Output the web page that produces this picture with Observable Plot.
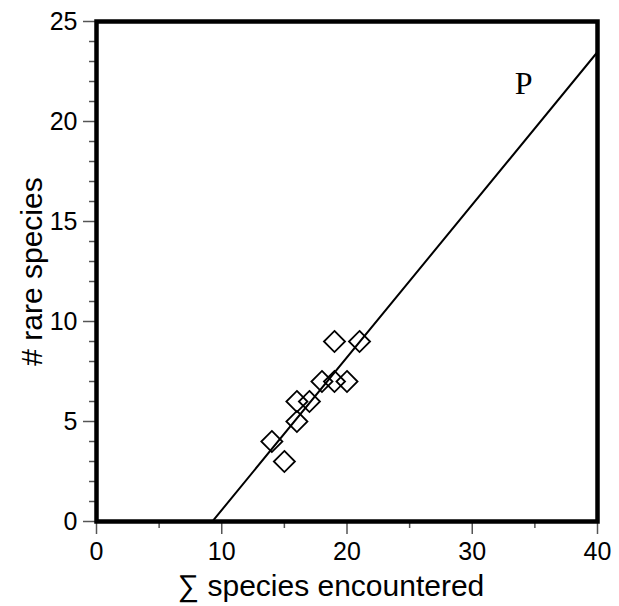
<!DOCTYPE html>
<html><head><meta charset="utf-8">
<script src="https://cdn.jsdelivr.net/npm/d3@7"></script>
<script src="https://cdn.jsdelivr.net/npm/@observablehq/plot@0.6"></script>
<style>
body{margin:0;background:#fff;}
#chart svg{display:block;}
</style>
</head><body><div id="chart"></div>
<script>
// Data
const totalSpecies = [14, 15, 16, 16, 17, 18, 19, 20, 19, 21];
const rareSpecies  = [4, 3, 5, 6, 6, 7, 7, 7, 9, 9];
const xTicks = [0, 10, 20, 30, 40];
const xMinorTicks = [5, 15, 25, 35];
const yTicks = [0, 5, 10, 15, 20, 25];
const yMinorTicks = [1, 2, 3, 4, 6, 7, 8, 9, 11, 12, 13, 14, 16, 17, 18, 19, 21, 22, 23, 24];
const xDomain = [0, 40];
const yDomain = [0, 25];
const xLabel = "∑ species encountered";
const yLabel = "# rare species";
const annotation = [{label: "P", x: 34.1, y: 21.9}];

const points = totalSpecies.map((x, i) => ({x, y: rareSpecies[i]}));

// least-squares fit
const mx = d3.mean(points, d => d.x), my = d3.mean(points, d => d.y);
const slope = d3.sum(points, d => (d.x - mx) * (d.y - my)) / d3.sum(points, d => (d.x - mx) ** 2);
const intercept = my - slope * mx;
const fitLine = xDomain.map(x => ({x, y: intercept + slope * x}));

const font = "'Liberation Sans', Arial, Helvetica, sans-serif";

const chart = Plot.plot({
  width: 619,
  height: 606,
  marginLeft: 96,
  marginRight: 22,
  marginTop: 21,
  marginBottom: 85,
  style: {fontFamily: font, background: "#fff", color: "black"},
  x: {domain: xDomain},
  y: {domain: yDomain},
  marks: [
    Plot.line(fitLine, {x: "x", y: "y", stroke: "black", strokeWidth: 2, clip: true}),
    Plot.dot(points, {x: "x", y: "y", symbol: "diamond2", r: 9.5, stroke: "black", strokeWidth: 1.8, fill: "none"}),
    Plot.axisY(yMinorTicks, {tickSize: 7, tickFormat: () => "", stroke: "#555", strokeWidth: 1.5, label: null}),
    Plot.axisY(yTicks, {tickSize: 13, tickPadding: 6, fontSize: 25, stroke: "#555", strokeWidth: 1.5, fill: "black", label: null}),
    Plot.axisX(xMinorTicks, {tickSize: 7, tickFormat: () => "", stroke: "#555", strokeWidth: 1.5, label: null}),
    Plot.axisX(xTicks, {tickSize: 13, tickPadding: 8, fontSize: 25, stroke: "#555", strokeWidth: 1.5, fill: "black", label: null}),
    Plot.frame({stroke: "black", strokeWidth: 4.5}),
    Plot.text(annotation, {x: "x", y: "y", text: "label", fontSize: 32, fontFamily: "'Liberation Serif', 'Times New Roman', serif", fill: "black"}),
    Plot.text([xLabel], {text: d => d, frameAnchor: "bottom", textAnchor: "middle", lineAnchor: "bottom", dx: -16, dy: 74, fontSize: 30, fill: "black"}),
    Plot.text([yLabel], {text: d => d, frameAnchor: "left", textAnchor: "middle", dx: -64, rotate: -90, fontSize: 30, fill: "black"})
  ]
});
document.getElementById("chart").appendChild(chart);
</script>
</body></html>
